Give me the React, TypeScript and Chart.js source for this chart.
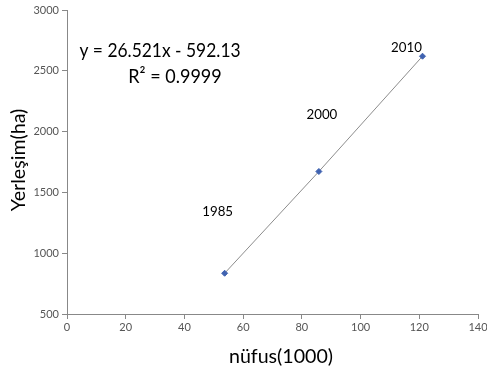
import React, { useEffect, useRef } from "react";
import { Chart, registerables } from "chart.js";

Chart.register(...registerables);

const populationK = [53.7, 85.8, 121.1];
const settlementHa = [835, 1672, 2620];
const yearLabels = ["1985", "2000", "2010"];
const xAxisTitle = "nüfus(1000)";
const yAxisTitle = "Yerleşim(ha)";
const equationText = "y = 26.521x - 592.13";
const r2Text = "R² = 0.9999";

const FONT = "Lato, 'Open Sans', sans-serif";

const labelOffsets = [
  [-7, -62],
  [3, -57],
  [-16, -9],
];

function squeezedText(ctx: any, text: string, x: number, y: number, sx: number) {
  ctx.save();
  ctx.translate(x, y);
  ctx.scale(sx, 1);
  ctx.fillText(text, 0, 0);
  ctx.restore();
}

const textPlugin = {
  id: "textPlugin",
  afterDraw(chart: any) {
    const ctx = chart.ctx;
    const xs = chart.scales.x;
    const ys = chart.scales.y;
    ctx.save();
    ctx.fillStyle = "#000";
    ctx.textAlign = "center";
    ctx.textBaseline = "middle";
    ctx.font = `14px ${FONT}`;
    yearLabels.forEach((lab, i) => {
      const px = xs.getPixelForValue(populationK[i]) + labelOffsets[i][0];
      const py = ys.getPixelForValue(settlementHa[i]) + labelOffsets[i][1];
      squeezedText(ctx, lab, px, py, 0.95);
    });
    ctx.font = `20px ${FONT}`;
    squeezedText(ctx, equationText, 160, 51, 0.87);
    squeezedText(ctx, r2Text, 175, 77, 0.9);
    squeezedText(ctx, xAxisTitle, 281, 357, 0.98);
    ctx.translate(19, 160);
    ctx.rotate(-Math.PI / 2);
    squeezedText(ctx, yAxisTitle, 0, 0, 0.98);
    ctx.restore();
  },
};

export default function App() {
  const ref = useRef<HTMLCanvasElement | null>(null);
  useEffect(() => {
    if (!ref.current) return;
    const chart = new Chart(ref.current, {
      type: "scatter",
      data: {
        datasets: [
          {
            data: populationK.map((x, i) => ({ x, y: settlementHa[i] })),
            showLine: true,
            borderColor: "#8c8c8c",
            borderWidth: 1,
            pointStyle: "rectRot",
            pointRadius: 3,
            pointBackgroundColor: "#3f62b0",
            pointBorderColor: "#3f62b0",
          },
        ],
      },
      options: {
        animation: false,
        responsive: false,
        layout: { padding: { top: 10, right: 9, left: 0, bottom: 0 } },
        plugins: { legend: { display: false }, tooltip: { enabled: false } },
        scales: {
          x: {
            type: "linear",
            min: 0,
            max: 140,
            ticks: {
              stepSize: 20,
              color: "#555",
              font: { size: 11, family: FONT },
              padding: 2,
              maxRotation: 0,
              callback: (v: any) => String(v),
            },
            grid: { drawOnChartArea: false, color: "#888", tickLength: 5 },
            border: { color: "#888" },
            afterFit: (s: any) => {
              s.height = 66;
              s.paddingLeft = 0;
              s.paddingRight = 0;
            },
          },
          y: {
            type: "linear",
            min: 500,
            max: 3000,
            ticks: {
              stepSize: 500,
              color: "#555",
              font: { size: 11, family: FONT },
              padding: 3,
              callback: (v: any) => String(v),
            },
            grid: { drawOnChartArea: false, color: "#888", tickLength: 5 },
            border: { color: "#888" },
            afterFit: (s: any) => {
              s.width = 67;
              s.paddingTop = 0;
              s.paddingBottom = 0;
            },
          },
        },
      },
      plugins: [textPlugin],
    });
    return () => chart.destroy();
  }, []);
  return (
    <div style={{ position: "fixed", left: 0, top: 0, width: 487, height: 380, background: "#fff" }}>
      <canvas ref={ref} width={487} height={380} />
    </div>
  );
}
